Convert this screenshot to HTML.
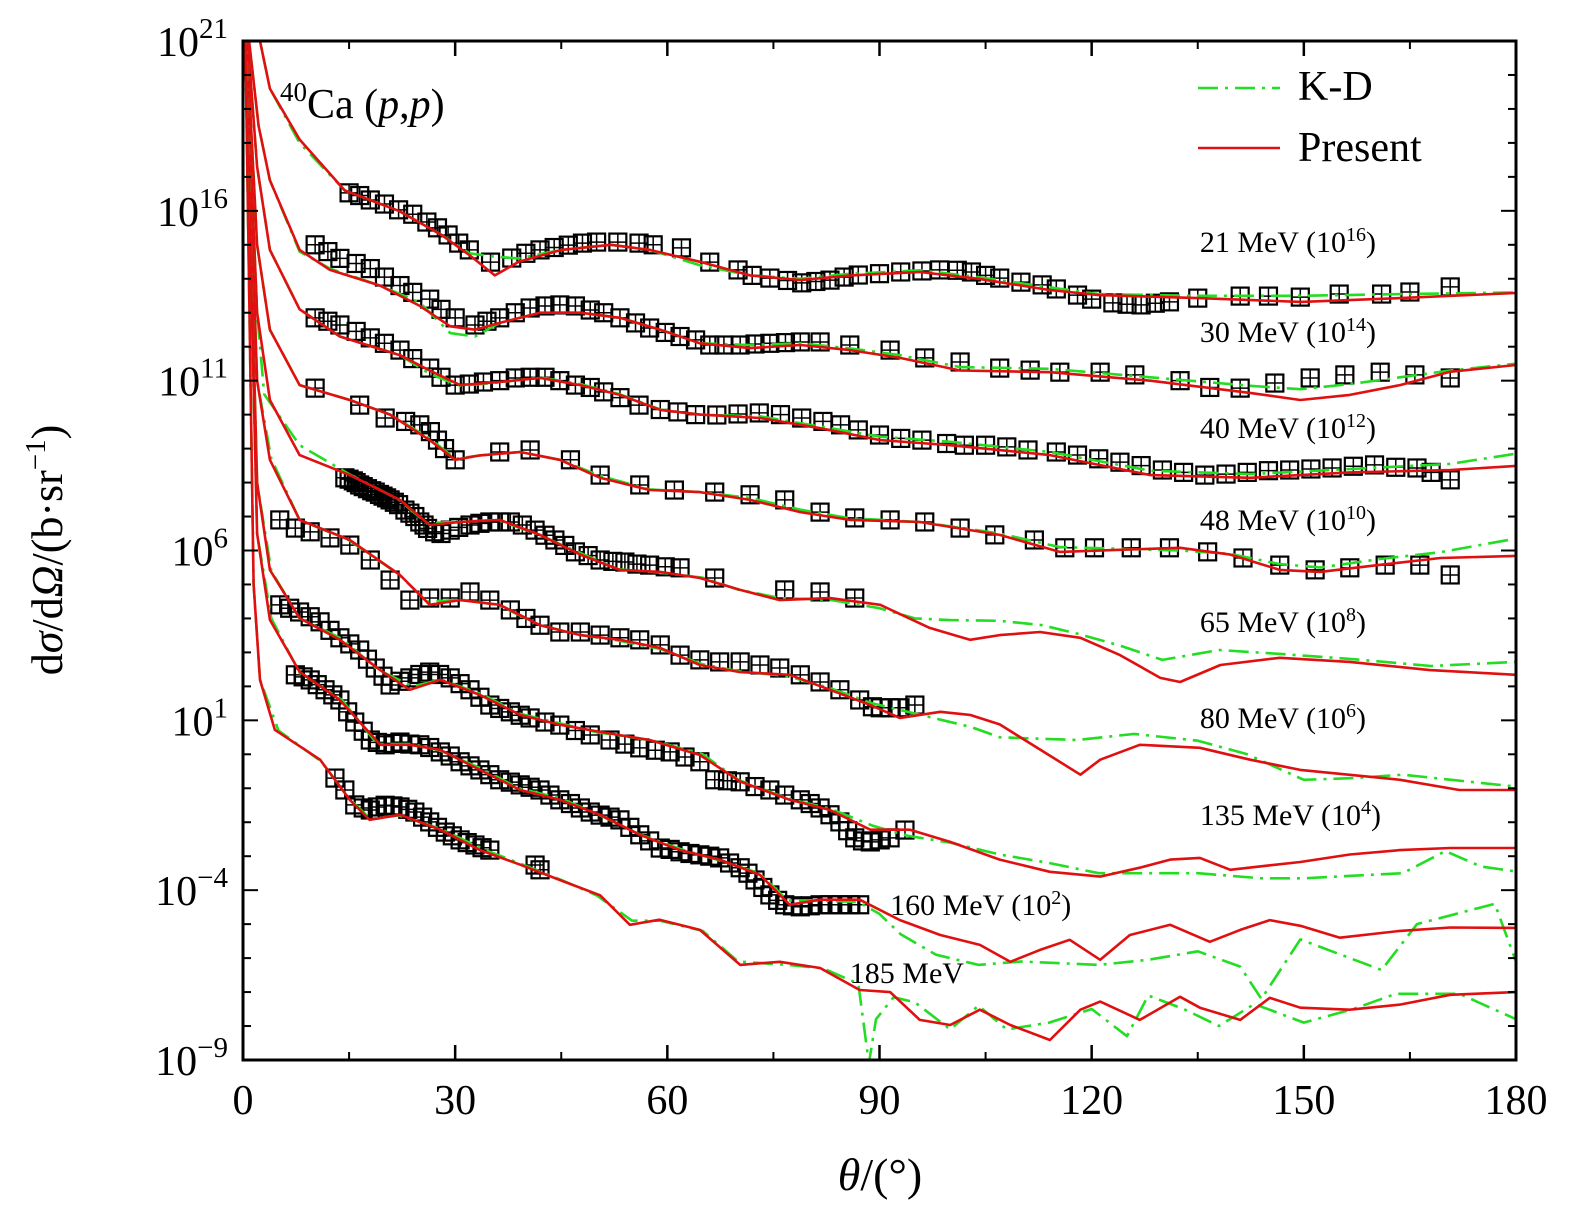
<!DOCTYPE html>
<html><head><meta charset="utf-8"><style>
html,body{margin:0;padding:0;background:#fff;}
svg{display:block;font-family:"Liberation Serif",serif;}
</style></head><body>
<svg id="chart" width="1575" height="1211" viewBox="0 0 1575 1211" xmlns="http://www.w3.org/2000/svg">
<defs><clipPath id="pc"><rect x="243" y="41" width="1273" height="1019"/></clipPath></defs>
<g id="series" clip-path="url(#pc)"></g>
<rect x="243" y="41" width="1273" height="1019" fill="none" stroke="#000" stroke-width="3"/>
<g id="axes"></g>
<text x="280" y="118" font-size="42"><tspan font-size="27" dy="-17">40</tspan><tspan dy="17">Ca (</tspan><tspan font-style="italic">p</tspan><tspan>,</tspan><tspan font-style="italic">p</tspan><tspan>)</tspan></text>
<g>
<line x1="1198" y1="88" x2="1280" y2="88" stroke="#22dd22" stroke-width="2.5" stroke-dasharray="20,7,3,7"/>
<text x="1298" y="100" font-size="42">K-D</text>
<line x1="1198" y1="148" x2="1280" y2="148" stroke="#e01010" stroke-width="2.5"/>
<text x="1298" y="161" font-size="42">Present</text>
</g>
<g id="elabels" font-size="30"></g>
<text x="880" y="1190" font-size="46" text-anchor="middle"><tspan font-style="italic">θ</tspan>/(°)</text>
<text transform="translate(62,550) rotate(-90)" font-size="44" text-anchor="middle">d<tspan font-style="italic">σ</tspan>/d<tspan font-style="italic">Ω</tspan>/(b·sr<tspan font-size="29" dy="-17">−1</tspan><tspan dy="17">)</tspan></text>
</svg>
<script>
// ---- data (theta in degrees, values as log10 of scaled cross section) ----
const xTicks=[0,30,60,90,120,150,180];
const yTickExps=[21,16,11,6,1,-4,-9];
const energyLabels=["21 MeV (10","30 MeV (10","40 MeV (10","48 MeV (10","65 MeV (10","80 MeV (10","135 MeV (10","160 MeV (10","185 MeV"];
const energyScales=["16","14","12","10","8","6","4","2",""];
const labelTh=[135.3,135.3,135.3,135.3,135.3,135.3,135.3,91.5,85.8];
const labelY=[14.79,12.14,9.31,6.6,3.6,0.78,-2.08,-4.73,-6.73];

const r21T=[1.2,2.4,3.8,8,14.4,22,28,32,35.6,39,45,52,57.5,64.6,71.7,78.8,86,95.7,104,114,121,135,149.6,163.6,180];
const r21V=[21.6,21,19.6,18.1,16.6,16.0,15.3,14.7,14.1,14.5,14.85,15.0,14.85,14.5,14.1,13.96,14.1,14.2,14.0,13.67,13.52,13.43,13.32,13.43,13.58];
const g21V=[21.6,21,19.6,18.0,16.6,16.0,15.3,14.75,14.65,14.6,14.85,15.0,14.85,14.4,14.1,14.0,14.15,14.25,14.05,13.75,13.55,13.5,13.5,13.55,13.6];
const d21T=[15,16.5,18,20,22,24,26,27.5,29,30.5,32,35,38,40,42,44,46,48,50,53,56,58,62,66,70,72,74.5,77,79,81,83,85,87,90,93,96,98.5,101,103,105,107,110,113,115,118,120,123,125,127,129,131,135,141,145,149.5,155,161,165,170.7];
const d21V=[16.53,16.45,16.32,16.2,16.03,15.9,15.67,15.5,15.29,15.05,14.85,14.49,14.61,14.75,14.85,14.92,14.99,15.05,15.08,15.08,15.05,15.0,14.91,14.49,14.26,14.1,14.02,13.95,13.88,13.92,13.96,14.05,14.11,14.15,14.2,14.23,14.26,14.25,14.2,14.1,14.02,13.9,13.82,13.7,13.52,13.4,13.29,13.25,13.23,13.28,13.32,13.43,13.49,13.49,13.46,13.55,13.55,13.61,13.76];

const r30T=[0.6,2.2,3.8,8,12.3,19.4,25,29.3,32.8,36.3,42,47.7,53.3,59,64.6,71.7,78.8,85.8,92.9,101.4,114.1,128.3,142.4,149.5,156.5,163.6,170.7,180];
const r30V=[21.5,18.5,16.9,14.85,14.26,13.8,13.2,12.6,12.5,12.7,13.0,13.0,12.85,12.5,12.1,11.96,12.05,11.9,11.67,11.3,11.25,11.0,10.64,10.43,10.58,10.87,11.26,11.46];
const g30V=[21.5,18.5,16.9,14.8,14.3,13.8,13.3,12.4,12.3,12.7,13.0,13.0,12.85,12.5,12.1,12.05,12.1,11.95,11.75,11.4,11.35,11.1,10.85,10.75,10.9,11.1,11.3,11.5];
const d30T=[10.2,12,13.7,16,18,20,22.2,24,26.4,28,30,32.8,34.5,36.3,38.5,40.6,42.7,44.8,47,49.1,51,53.3,55.5,57.5,59.7,61.8,64,66,68,70.3,72.4,74.5,76.7,78.8,81.6,85.8,91.5,96.4,101.4,107,111.3,115.5,121.2,126.1,132.5,136.7,141,145.9,150.9,155.8,160.8,165.7,170.7];
const d30V=[15.0,14.8,14.6,14.45,14.3,14.05,13.8,13.6,13.4,13.1,12.85,12.64,12.75,12.85,13.0,13.14,13.2,13.23,13.2,13.08,13.0,12.85,12.7,12.55,12.42,12.3,12.2,12.05,12.05,12.05,12.08,12.1,12.12,12.14,12.14,12.05,11.9,11.67,11.55,11.37,11.31,11.25,11.25,11.17,11.0,10.8,10.78,10.93,11.08,11.17,11.25,11.17,11.08];

const r40T=[0.5,2,3.8,8,13.7,22.2,26.4,30.7,36.3,42,47.7,53.3,59,64.6,73.1,81.6,90.1,100,114.1,128.3,142.4,156.5,170.7,180];
const r40V=[21.5,17.3,14.85,13.1,12.3,11.75,11.3,10.87,10.96,11.08,10.87,10.58,10.14,10.0,9.9,9.6,9.25,9.1,8.81,8.22,8.14,8.3,8.37,8.49];
const g40V=[21.5,17.3,14.85,13.1,12.3,11.75,11.2,10.85,10.95,11.1,10.9,10.6,10.15,10.0,9.95,9.65,9.35,9.2,8.9,8.35,8.25,8.4,8.55,8.85];
const d40T=[10.2,12,13.7,16,18,20,22.2,24,26.4,28,30,32,34,36.3,38.5,40.6,42.7,44.8,47,49.1,51,53.3,56,59,61.5,64,67,70,73,76,79,82,84.5,87,90,93,96,99.5,102,105,108,111,115,118,121,124,127,130,133,136,139,142,145,148,151,154,157,160,163,166,168,170.7];
const d40V=[12.85,12.75,12.64,12.45,12.26,12.1,11.9,11.65,11.37,11.1,10.87,10.9,10.96,11.0,11.08,11.1,11.1,11.0,10.87,10.8,10.67,10.5,10.28,10.15,10.08,10.0,9.99,10.02,10.05,10.0,9.9,9.8,9.7,9.55,9.4,9.3,9.25,9.15,9.1,9.1,9.05,8.96,8.9,8.81,8.7,8.6,8.5,8.37,8.3,8.22,8.25,8.3,8.35,8.37,8.4,8.43,8.48,8.52,8.45,8.43,8.3,8.08];

const r48T=[0.4,2,3.8,8,15.1,20.8,26.4,30,33.5,39.2,44.8,50.5,57.5,64.6,71.7,78.8,85.8,95.7,107,115.5,124,132.5,139.6,146.6,152.3,160.8,169.3,180];
const r48V=[21.5,15,12.5,10.87,10.43,10.0,9.25,8.67,8.8,8.9,8.67,8.14,7.78,7.72,7.49,7.13,6.9,6.84,6.46,5.96,6.02,6.08,5.88,5.43,5.37,5.58,5.78,5.84];
const g48V=[21.5,15,12.5,10.87,10.43,10.0,9.3,8.7,8.8,8.9,8.67,8.2,7.8,7.72,7.55,7.2,6.95,6.84,6.5,6.1,6.05,6.0,5.9,5.6,5.5,5.75,5.95,6.35];
const d48T=[10.2,16.5,20.1,23,25,26.5,27.5,28.5,30,36.3,40.6,46.3,50.5,56.1,61,66.7,71.7,76.6,81.6,86.5,91.5,96.4,101.4,106.3,111.9,116.2,120.4,125.6,131,136.4,141.4,146.6,151.6,156.5,161.5,166.4,170.7];
const d48V=[10.78,10.28,9.9,9.8,9.7,9.5,9.25,9.0,8.67,8.9,8.96,8.67,8.22,7.93,7.78,7.72,7.64,7.49,7.13,6.96,6.9,6.84,6.66,6.46,6.31,6.08,6.08,6.08,6.08,5.96,5.78,5.57,5.43,5.49,5.57,5.57,5.28];

const r65T=[0.3,2,3.8,8,15.1,22.2,26.4,30.7,36.3,42,47.7,53.3,59,64.6,70.3,75.9,83,90.1,97.1,102.8,107,112.7,118.4,124,129.7,132.5,138.2,146.6,156.5,167.8,180];
const r65V=[21.5,13,10.43,8.81,8.22,7.49,6.75,6.84,6.9,6.46,5.88,5.43,5.37,5.19,4.84,4.54,4.6,4.4,3.72,3.37,3.51,3.6,3.43,2.92,2.25,2.13,2.63,2.84,2.72,2.48,2.34];
const g65T=[0.3,2,3,8,15,22,26,31,36,42,48,53,59,65,70,76,83,90,95,100,107,113,118,124,130,138,147,157,168,180];
const g65V=[21.5,13,10.6,9.1,8.25,7.5,6.8,6.85,6.9,6.45,5.9,5.45,5.35,5.2,4.85,4.6,4.55,4.3,4.0,3.95,3.93,3.8,3.55,3.2,2.78,3.07,2.95,2.8,2.6,2.72];
const d65T=[14.4,15,15.6,16,16.5,17,17.6,18.2,18.7,19.3,19.8,20.3,20.8,21.4,22,22.9,23.6,24.3,25,25.6,26.1,27.1,28,29.3,30.5,32.1,33.5,34.9,36.3,37.8,39.5,41.3,42.7,44.1,45.5,47,48.8,50.5,52.3,54,55.7,57.5,59.7,61.8,66.7,76.6,81.6,86.5];
const d65V=[8.14,8.1,8.05,8.0,7.93,7.88,7.82,7.76,7.72,7.65,7.6,7.55,7.49,7.42,7.35,7.19,7.1,7.0,6.84,6.75,6.65,6.55,6.5,6.6,6.68,6.75,6.8,6.84,6.84,6.84,6.75,6.6,6.45,6.31,6.15,5.96,5.85,5.72,5.68,5.66,5.6,5.57,5.52,5.49,5.19,4.84,4.78,4.6];

const r80T=[0.3,2,3.8,8,15.1,22.2,26.4,30.7,36.3,42,47.7,53.3,59,64.6,70.3,77.3,83,88.7,92.9,98.6,102.8,107,112.7,118.4,121.2,126.8,135.3,142.4,149.5,163.6,172,180];
const r80V=[21.5,11,8.67,6.9,6.31,5.28,4.4,4.54,4.4,3.8,3.51,3.37,3.13,2.63,2.42,2.34,1.9,1.45,1.07,1.25,1.16,0.88,0.14,-0.6,-0.16,0.28,0.19,-0.16,-0.46,-0.75,-1.05,-1.05];
const g80T=[0.3,2,4,8,15,22,26,31,36,42,48,53,59,65,70,77,83,89,93,99,103,107,118,126,135,142,150,157,164,180];
const g80V=[21.5,11,8.7,6.9,6.3,5.3,4.5,4.55,4.4,3.8,3.5,3.35,3.1,2.65,2.45,2.3,1.95,1.5,1.3,1.0,0.8,0.5,0.42,0.6,0.4,0.0,-0.75,-0.7,-0.6,-0.95];
const d80T=[5.2,7.4,9.5,12.3,15.1,18,20.8,23.6,26.4,29.3,32.1,34.9,37.8,40,42,44.8,47.7,50.5,53.3,56.1,59,61.8,64.6,67.4,70.3,73.1,75.9,78.8,81.6,84.4,87.2,89,90.1,91.5,92.9,95];
const d80V=[6.9,6.66,6.55,6.37,6.16,5.72,5.13,4.54,4.6,4.6,4.78,4.54,4.25,4.0,3.8,3.6,3.6,3.51,3.43,3.37,3.22,2.92,2.78,2.72,2.72,2.63,2.54,2.34,2.13,1.9,1.6,1.4,1.37,1.37,1.37,1.45];

const r135T=[0.3,2,3.8,8,13.7,19.4,23.6,27.9,33.5,39.2,44.8,50.5,57.5,64.6,70.3,77.3,83,88.7,94.3,100,107,114.1,121.2,126.8,131.1,135.3,139.6,143.8,149.5,156.5,163.6,170.7,180];
const r135V=[21.5,8,5.43,4.01,3.37,2.48,1.9,2.19,1.75,1.16,0.87,0.66,0.42,-0.02,-0.8,-1.34,-1.64,-2.22,-2.22,-2.58,-3.1,-3.46,-3.6,-3.34,-3.1,-3.05,-3.4,-3.3,-3.17,-2.95,-2.82,-2.76,-2.76];
const g135T=[0.3,2,4,8,14,19,24,28,34,39,45,50,58,65,70,77,83,89,94,100,107,114,121,128,135,144,150,164,170,175,180];
const g135V=[21.5,8,5.4,4.0,3.4,2.5,2.0,2.2,1.75,1.2,0.9,0.65,0.4,0.0,-0.75,-1.3,-1.6,-2.1,-2.4,-2.6,-2.95,-3.2,-3.5,-3.5,-3.5,-3.65,-3.65,-3.5,-2.85,-3.3,-3.45];
const d135T=[5.2,6.6,8,9.5,10.9,12.3,13.7,15.1,16.5,17.6,18.7,19.8,20.8,22.2,23.6,25,26.4,27.8,29.3,30.7,32.1,33.5,34.9,36.3,37.8,39.2,40.6,42.7,44.8,47,49.1,51.9,54,56.1,58.3,60.4,62.5,64.6,66.7,68.5,70.3,72.4,74.5,76.6,78.8,80.2,81.6,83,84.4,85.5,86.5,87.6,88.7,90.1,91.5,93.6];
const d135V=[4.4,4.3,4.19,4.05,3.9,3.65,3.43,3.25,3.07,2.8,2.54,2.3,2.04,2.15,2.25,2.35,2.42,2.35,2.25,2.08,1.9,1.68,1.45,1.35,1.25,1.15,1.07,0.95,0.86,0.7,0.57,0.42,0.3,0.19,0.12,0.07,-0.08,-0.22,-0.75,-0.78,-0.81,-0.95,-1.05,-1.2,-1.34,-1.45,-1.58,-1.78,-1.99,-2.25,-2.46,-2.55,-2.58,-2.52,-2.46,-2.23];

const r160T=[0.3,2,3.8,8,13.7,19.4,23.6,27.9,33.5,39.2,44.8,50.5,56.1,61.8,67.4,73.1,77.3,81.6,87.2,92.9,98.6,104.2,108.5,112.7,116.9,121.2,125.4,131.1,136.7,141,145.2,149.5,155.1,163.6,170.7,180];
const r160V=[21.5,6.5,3.96,2.43,1.6,0.28,0.28,0.13,-0.46,-1.05,-1.34,-1.78,-2.37,-2.82,-3.1,-3.55,-4.43,-4.28,-4.28,-4.88,-5.32,-5.61,-6.11,-5.76,-5.46,-6.05,-5.32,-5.02,-5.52,-5.17,-4.88,-5.05,-5.4,-5.2,-5.1,-5.11];
const g160T=[0.3,2,4,8,14,19,24,28,34,39,45,50,56,62,67,73,77,82,87,90,93,98,104,110,121,128,135,141,144,149.5,161,166,177,180];
const g160V=[21.5,6.5,4.0,2.4,1.6,0.3,0.3,0.1,-0.45,-1.0,-1.3,-1.75,-2.35,-2.8,-3.1,-3.5,-4.3,-4.3,-4.35,-4.7,-5.3,-5.9,-6.2,-6.1,-6.2,-6.05,-5.8,-6.25,-7.2,-5.45,-6.35,-5.0,-4.4,-6.1];
const d160T=[7.4,8.5,9.5,10.5,11.6,12.7,13.7,14.8,15.8,17,18,19,20.1,21.2,22.2,23.6,25,26.4,27.9,29.3,30.7,32.1,33.5,34.9,36.3,37.8,39.2,40.6,42,43.4,44.8,46.3,47.7,49.1,50.5,51.9,53.3,54.7,56.1,57.5,59,60.4,61.8,63.2,64.6,66,67.4,68.8,70.3,71.4,72.4,73.5,74.5,75.6,76.6,77.7,78.8,80.2,81.6,83,84.4,85.8,87.2];
const d160V=[2.34,2.28,2.19,2.05,1.9,1.75,1.6,1.25,0.95,0.68,0.42,0.35,0.28,0.32,0.36,0.3,0.28,0.2,0.07,-0.05,-0.22,-0.34,-0.46,-0.6,-0.75,-0.82,-0.9,-0.97,-1.05,-1.2,-1.34,-1.45,-1.58,-1.7,-1.79,-1.85,-1.93,-2.15,-2.37,-2.55,-2.76,-2.8,-2.87,-2.92,-2.96,-3.0,-3.05,-3.2,-3.34,-3.5,-3.7,-3.92,-4.14,-4.3,-4.43,-4.46,-4.49,-4.46,-4.43,-4.43,-4.43,-4.43,-4.43];

const r185T=[0.3,1.5,2.4,4.5,10.9,15.1,17.9,22.2,27.9,33.5,39.2,44.8,50.5,54.7,58.9,64.6,70.3,75.9,81.6,87.2,91.5,95.7,100,104.2,108.5,114.1,118.4,121.2,126.8,132.5,135.3,141,145.2,149.5,156.5,163.6,170.7,180];
const r185V=[21.5,5,2.19,0.72,-0.16,-1.34,-1.93,-1.78,-2.22,-2.82,-3.25,-3.7,-4.15,-5.02,-4.87,-5.17,-6.2,-6.11,-6.29,-6.94,-7.0,-7.82,-7.97,-7.52,-7.97,-8.41,-7.52,-7.28,-7.82,-7.14,-7.46,-7.82,-7.17,-7.46,-7.52,-7.37,-7.08,-7.0];
const g185T=[0.3,1.5,2.4,5,11,15,18,22,28,34,39,45,50,55,59,65,70,77,82,87,88.5,89.5,92,95,100,104,108,114,120,125,128,133,138,143,150,157,163,172,180];
const g185V=[21.5,5,2.2,0.7,-0.2,-1.3,-1.9,-1.8,-2.2,-2.8,-3.2,-3.7,-4.15,-4.9,-4.9,-5.2,-6.1,-6.2,-6.3,-6.75,-9.1,-7.8,-7.15,-7.3,-8.1,-7.4,-8.1,-7.9,-7.5,-8.3,-7.1,-7.5,-8.0,-7.35,-7.9,-7.5,-7.05,-7.05,-7.8];
const d185T=[13,14.4,15.8,17,18,19,20.1,21.2,22.2,23.3,24.3,25.4,26.4,27.5,28.6,29.6,30.7,31.7,32.8,33.8,34.9,41.3,42];
const d185V=[-0.7,-1.05,-1.49,-1.58,-1.64,-1.55,-1.5,-1.52,-1.55,-1.62,-1.7,-1.85,-1.99,-2.15,-2.29,-2.4,-2.52,-2.6,-2.67,-2.75,-2.82,-3.26,-3.4];
</script>
<script>
const NS="http://www.w3.org/2000/svg";
const X0=243,X1=1516,Y0=1060,Y1=41;
function sx(t){return X0+(X1-X0)*t/180;}
function sy(l){return Y0-(Y0-Y1)*(l+9)/30;}
function mk(tag,attrs,parent){const e=document.createElementNS(NS,tag);for(const k in attrs)e.setAttribute(k,attrs[k]);parent.appendChild(e);return e;}
const G=document.getElementById('series');
const AX=document.getElementById('axes');
function pathD(T,V){return T.map((t,i)=>(i?'L':'M')+sx(t).toFixed(1)+','+sy(V[i]).toFixed(1)).join(' ');}
function drawLine(T,V,color,dash,name){
  const p=mk('path',{d:pathD(T,V),fill:'none',stroke:color,'stroke-width':2.6,'stroke-linejoin':'round'},G);
  if(dash)p.setAttribute('stroke-dasharray',dash);
  
  
}
function drawData(T,V,name){
  const g=mk('g',{},G);
  
  
  T.forEach((t,i)=>{
    const x=sx(t),y=sy(V[i]);
    const r=mk('rect',{x:x-8.5,y:y-8.5,width:17,height:17,fill:'none',stroke:'#000','stroke-width':2.2},g);
    
    
    mk('path',{d:`M${x-8},${y}H${x+8}M${x},${y-8}V${y+8}`,stroke:'#000','stroke-width':1.5},g);
  });
}
const sets=[
 ['21',r21T,r21V,r21T,g21V,d21T,d21V],
 ['30',r30T,r30V,r30T,g30V,d30T,d30V],
 ['40',r40T,r40V,r40T,g40V,d40T,d40V],
 ['48',r48T,r48V,r48T,g48V,d48T,d48V],
 ['65',r65T,r65V,g65T,g65V,d65T,d65V],
 ['80',r80T,r80V,g80T,g80V,d80T,d80V],
 ['135',r135T,r135V,g135T,g135V,d135T,d135V],
 ['160',r160T,r160V,g160T,g160V,d160T,d160V],
 ['185',r185T,r185V,g185T,g185V,d185T,d185V]
];
sets.forEach(s=>{
  drawData(s[5],s[6],'data-'+s[0]+'mev');
  drawLine(s[3],s[4],'#22dd22','20,7,3,7','kd-curve-'+s[0]+'mev');
  drawLine(s[1],s[2],'#e01010',null,'present-curve-'+s[0]+'mev');
});
xTicks.forEach(t=>{
  const x=sx(t);
  mk('line',{x1:x,y1:Y0,x2:x,y2:Y0-15,stroke:'#000','stroke-width':2.5},AX);
  mk('line',{x1:x,y1:Y1,x2:x,y2:Y1+15,stroke:'#000','stroke-width':2.5},AX);
  const tx=mk('text',{x:x,y:1114,'font-size':42,'text-anchor':'middle'},AX);
  tx.textContent=t;
  
  
});
for(let t=15;t<180;t+=30){const x=sx(t);
  mk('line',{x1:x,y1:Y0,x2:x,y2:Y0-8,stroke:'#000','stroke-width':2},AX);
  mk('line',{x1:x,y1:Y1,x2:x,y2:Y1+8,stroke:'#000','stroke-width':2},AX);}
for(let e=-9;e<=21;e++){const y=sy(e);const major=yTickExps.includes(e);
  mk('line',{x1:X0,y1:y,x2:X0+(major?15:8),y2:y,stroke:'#000','stroke-width':2},AX);
  mk('line',{x1:X1,y1:y,x2:X1-(major?15:8),y2:y,stroke:'#000','stroke-width':2},AX);}
yTickExps.forEach(e=>{
  const y=sy(e);
  const tx=mk('text',{x:228,y:y+15,'font-size':42,'text-anchor':'end'},AX);
  
  
  const a=document.createElementNS(NS,'tspan');a.textContent='10';tx.appendChild(a);
  const b=document.createElementNS(NS,'tspan');b.setAttribute('dy','-18');b.setAttribute('font-size','29');b.textContent=(e<0?'−'+(-e):String(e));tx.appendChild(b);
});
const EL=document.getElementById('elabels');
energyLabels.forEach((lab,i)=>{
  const tx=mk('text',{x:sx(labelTh[i]),y:sy(labelY[i])},EL);
  
  
  const a=document.createElementNS(NS,'tspan');a.textContent=lab;tx.appendChild(a);
  if(energyScales[i]){
    const b=document.createElementNS(NS,'tspan');b.setAttribute('dy','-11');b.setAttribute('font-size','20');b.textContent=energyScales[i];tx.appendChild(b);
    const c=document.createElementNS(NS,'tspan');c.setAttribute('dy','11');c.textContent=')';tx.appendChild(c);
  }
});
</script>
</body></html>
